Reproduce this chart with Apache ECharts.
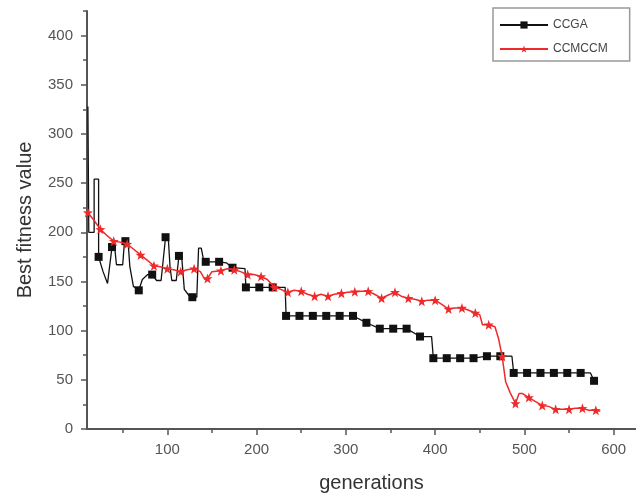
<!DOCTYPE html>
<html>
<head>
<meta charset="utf-8">
<script src="https://cdn.jsdelivr.net/npm/echarts@6/dist/echarts.min.js"></script>
<style>html,body{margin:0;padding:0;background:#fff;}#c{width:636px;height:498px;}</style>
</head>
<body>
<div id="c"></div>
<script>
// ---- data (generation, best fitness) ----
const seriesNames = ['CCGA', 'CCMCCM'];
const xTickValues = [100, 200, 300, 400, 500, 600];
const xMinorTickValues = [50, 150, 250, 350, 450, 550];
const yTickValues = [0, 50, 100, 150, 200, 250, 300, 350, 400];
const yMinorTickValues = [25, 75, 125, 175, 225, 275, 325, 375, 425];

const ccgaPath = [
  [11, 328], [12, 200], [18, 200], [18, 254], [23, 254], [23, 175], [28, 160], [33, 148],
  [38, 185], [41, 185], [43, 167], [50, 167], [52, 191], [56, 191], [58, 165], [62, 145],
  [68, 141], [72, 152], [78, 157], [83, 157], [88, 151], [93, 151], [98, 195], [101, 195],
  [103, 165], [105, 151], [110, 151], [113, 176], [116, 176], [119, 142], [124, 136],
  [128, 134], [133, 134], [135, 184], [138, 184], [141, 170], [158, 170], [166, 169],
  [173, 164], [187, 163], [188, 144], [232, 144], [233, 115], [308, 115], [323, 108],
  [338, 102], [368, 102], [383, 94], [396, 94], [398, 72], [443, 72], [458, 74], [486, 74],
  [488, 57], [574, 57], [578, 49]
];
const ccgaMarkers = [
  [23, 175], [38, 185], [53, 191], [68, 141], [83, 157], [98, 195], [113, 176], [128, 134],
  [143, 170], [158, 170], [173, 164], [188, 144], [203, 144], [218, 144], [233, 115],
  [248, 115], [263, 115], [278, 115], [293, 115], [308, 115], [323, 108], [338, 102],
  [353, 102], [368, 102], [383, 94], [398, 72], [413, 72], [428, 72], [443, 72], [458, 74],
  [473, 74], [488, 57], [503, 57], [518, 57], [533, 57], [548, 57], [563, 57], [578, 49]
];
const ccmccmPath = [
  [11, 220], [18, 212], [25, 203], [32, 197], [40, 191], [47, 190], [55, 188], [62, 183],
  [70, 177], [77, 172], [85, 166], [92, 165], [100, 163], [107, 162], [115, 160], [122, 162],
  [130, 163], [137, 160], [142, 152], [145, 153], [150, 160], [160, 161], [167, 163],
  [175, 162], [182, 160], [190, 157], [197, 157], [205, 155], [212, 152], [220, 144],
  [227, 142], [235, 139], [242, 141], [250, 140], [257, 137], [265, 135], [272, 137],
  [280, 135], [287, 137], [295, 138], [302, 139], [310, 139.5], [317, 140], [325, 140],
  [332, 137], [340, 133], [347, 136], [355, 139], [362, 135], [370, 133], [377, 132],
  [385, 130], [392, 131], [400, 131], [407, 127], [415, 122], [422, 123], [430, 123],
  [437, 121], [445, 118], [450, 116], [453, 106], [460, 106], [467, 104], [471, 92],
  [475, 74], [479, 48], [484, 37], [490, 26], [494, 36], [498, 36], [505, 32], [512, 28],
  [520, 24], [527, 23], [535, 20], [542, 20], [550, 20], [557, 21], [565, 21], [572, 19],
  [580, 19], [585, 18]
];
const ccmccmMarkers = [
  [11, 220], [25, 203], [40, 191], [55, 188], [70, 177], [85, 166], [100, 163], [115, 160],
  [130, 163], [145, 153], [160, 161], [175, 162], [190, 157], [205, 155], [220, 144],
  [235, 139], [250, 140], [265, 135], [280, 135], [295, 138], [310, 139.5], [325, 140],
  [340, 133], [355, 139], [370, 133], [385, 130], [400, 131], [415, 122], [430, 123],
  [445, 118], [460, 106], [475, 74], [490, 26], [505, 32], [520, 24], [535, 20], [550, 20],
  [565, 21], [580, 19]
];

// ---- chart ----
const FONT = 'Liberation Sans, Arial, sans-serif';
const BLACK = '#111111';
const RED = '#ee2a2a';
const STAR = 'path://M0,-10L2.35,-3.24L9.51,-3.09L3.8,1.24L5.88,8.09L0,4L-5.88,8.09L-3.8,1.24L-9.51,-3.09L-2.35,-3.24Z';
const X_MIN = 10, X_MAX = 625, Y_MIN = 0, Y_MAX = 425;

const chart = echarts.init(document.getElementById('c'), null, {renderer: 'canvas'});
const axisLine = {show: true, onZero: false, lineStyle: {color: '#555', width: 2}};

chart.setOption({
  animation: false,
  backgroundColor: '#fff',
  grid: {left: 87, right: 0, top: 11, bottom: 68, containLabel: false},
  legend: {
    data: seriesNames,
    orient: 'vertical',
    left: 493, top: 8,
    itemWidth: 48, itemHeight: 9, itemGap: 12, itemTextGap: 7,
    padding: [11, 22, 6, 6],
    borderColor: '#999', borderWidth: 1.5,
    backgroundColor: '#fff',
    selectedMode: false,
    textStyle: {fontFamily: FONT, fontSize: 12, color: '#444'}
  },
  xAxis: [{
    type: 'value', min: X_MIN, max: X_MAX, position: 'bottom',
    name: 'generations', nameLocation: 'middle', nameGap: 44,
    nameTextStyle: {fontFamily: FONT, fontSize: 20, color: '#333', padding: [0, 0, 0, 20]},
    axisLine: axisLine,
    axisTick: {show: true, inside: false, length: 6, customValues: xTickValues, lineStyle: {color: '#555', width: 1.5}},
    axisLabel: {customValues: xTickValues, margin: 13, fontFamily: FONT, fontSize: 15, color: '#555'},
    splitLine: {show: false}
  }, {
    type: 'value', min: X_MIN, max: X_MAX, position: 'bottom',
    axisLine: {show: false},
    axisTick: {show: true, inside: false, length: 4, customValues: xMinorTickValues, lineStyle: {color: '#555', width: 1.5}},
    axisLabel: {show: false},
    splitLine: {show: false}
  }],
  yAxis: [{
    type: 'value', min: Y_MIN, max: Y_MAX, position: 'left',
    name: 'Best fitness value', nameLocation: 'middle', nameGap: 52,
    nameTextStyle: {fontFamily: FONT, fontSize: 20, color: '#333'},
    axisLine: axisLine,
    axisTick: {show: true, inside: false, length: 6, customValues: yTickValues, lineStyle: {color: '#555', width: 1.5}},
    axisLabel: {customValues: yTickValues, margin: 14, fontFamily: FONT, fontSize: 15, color: '#555'},
    splitLine: {show: false}
  }, {
    type: 'value', min: Y_MIN, max: Y_MAX, position: 'left',
    axisLine: {show: false},
    axisTick: {show: true, inside: false, length: 4, customValues: yMinorTickValues, lineStyle: {color: '#555', width: 1.5}},
    axisLabel: {show: false},
    splitLine: {show: false}
  }],
  series: [
    {
      name: seriesNames[0], type: 'line', data: ccgaPath,
      symbol: 'rect', symbolSize: 8, showSymbol: false,
      lineStyle: {color: BLACK, width: 1.3}, itemStyle: {color: BLACK}, z: 2
    },
    {
      name: seriesNames[0], type: 'scatter', data: ccgaMarkers,
      symbol: 'rect', symbolSize: 8, itemStyle: {color: BLACK, opacity: 1}, z: 3
    },
    {
      name: seriesNames[1], type: 'line', data: ccmccmPath,
      symbol: STAR, symbolSize: 9, showSymbol: false,
      lineStyle: {color: RED, width: 1.5}, itemStyle: {color: RED}, z: 4
    },
    {
      name: seriesNames[1], type: 'scatter', data: ccmccmMarkers,
      symbol: STAR, symbolSize: 10, itemStyle: {color: RED, opacity: 1}, z: 5
    }
  ]
});
</script>
</body>
</html>
